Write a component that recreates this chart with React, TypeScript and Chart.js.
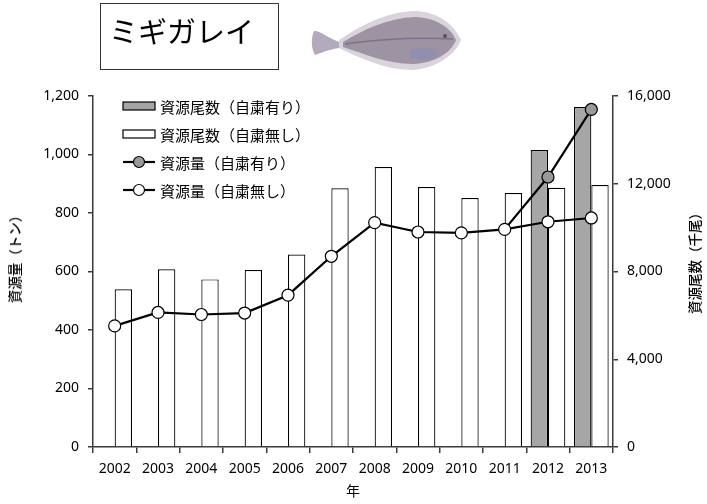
import React, { useEffect, useRef } from "react";
import { Chart, registerables } from "chart.js";

Chart.register(...registerables);

const years = ["2002", "2003", "2004", "2005", "2006", "2007", "2008", "2009", "2010", "2011", "2012", "2013"];
// 資源量 (トン)
const biomassNoRestraint = [414, 460, 453, 458, 519, 652, 767, 735, 732, 744, 770, 783];
const biomassRestraint = [null, null, null, null, null, null, null, null, null, 744, 923, 1154];
// 資源尾数 (千尾)
const countNoRestraint = [7190, 8100, 7640, 8070, 8770, 11790, 12760, 11850, 11350, 11580, 11820, 11940];
const countRestraint = [null, null, null, null, null, null, null, null, null, null, 13540, 15500];

const legendLabels = ["資源尾数（自粛有り）", "資源尾数（自粛無し）", "資源量（自粛有り）", "資源量（自粛無し）"];

const AXIS = "#3a3a3a";
const GRAY = "#a6a6a6";
const tickFont = { family: "'Noto Sans', sans-serif", size: 14 };
const jp = "'Noto Sans CJK JP', sans-serif";

const fmt = (v: any) => Number(v).toLocaleString("en-US");

const Fish = () => (
    <svg width={165} height={80} style={{ position: "absolute", left: 305, top: 0 }}>
        <path d="M34 42 C20 36 14 30 9 31 C6 38 6 48 10 55 C16 53 22 50 34 48 Z" fill="#b3abbd" />
        <path d="M34 40 C55 26 80 12 110 11 C135 12 150 26 156 40 C150 55 132 68 108 70 C80 70 55 58 34 48 Z" fill="#d9d4dc" />
        <path d="M38 42 C58 30 82 18 110 17 C132 18 146 28 151 40 C146 53 130 63 108 64 C82 64 60 54 38 47 Z" fill="#9d93a3" />
        <path d="M40 44 C70 40 100 37 148 39" stroke="#7b7287" strokeWidth={1.5} fill="none" />
        <ellipse cx={118} cy={54} rx={14} ry={6} fill="#8a8db0" opacity={0.7} />
        <circle cx={140} cy={36} r={2} fill="#555" />
    </svg>
);

const Legend = () => {
    const rows = [106, 134, 162, 190];
    return (
        <>
            {legendLabels.map((t, i) => (
                <div key={t} style={{ position: "absolute", left: 122, top: rows[i] - 10, height: 20, display: "flex", alignItems: "center" }}>
                    <svg width={34} height={20}>
                        {i < 2 ? (
                            <rect x={1} y={6} width={32} height={8} fill={i === 0 ? GRAY : "#fff"} stroke="#000" strokeWidth={1.2} />
                        ) : (
                            <>
                                <line x1={1} y1={10} x2={33} y2={10} stroke="#000" strokeWidth={2.2} />
                                <circle cx={17} cy={10} r={5.5} fill={i === 2 ? "#999" : "#fff"} stroke="#000" strokeWidth={1.2} />
                            </>
                        )}
                    </svg>
                    <span style={{ marginLeft: 4, fontSize: 15, fontFamily: jp, color: "#000", whiteSpace: "nowrap" }}>{t}</span>
                </div>
            ))}
        </>
    );
};

const axisTitle = (left: number, top: number): React.CSSProperties => ({
    position: "absolute",
    left,
    top,
    transform: "translate(-50%, -50%) rotate(-90deg)",
    fontSize: 13.5,
    fontFamily: jp,
    fontWeight: 500,
    whiteSpace: "nowrap",
    color: "#000",
    lineHeight: "16px",
});

const App = () => {
    const canvasRef = useRef<HTMLCanvasElement | null>(null);

    useEffect(() => {
        const ctx = canvasRef.current?.getContext("2d");
        if (!ctx) return;

        const chart = new Chart(ctx, {
            type: "bar",
            data: {
                labels: years,
                datasets: [
                    {
                        type: "line",
                        label: legendLabels[3],
                        data: biomassNoRestraint,
                        yAxisID: "y",
                        borderColor: "#000",
                        borderWidth: 2.2,
                        pointRadius: 6,
                        pointBackgroundColor: "#fff",
                        pointBorderColor: "#000",
                        pointBorderWidth: 1.2,
                        order: 0,
                    },
                    {
                        type: "line",
                        label: legendLabels[2],
                        data: biomassRestraint,
                        yAxisID: "y",
                        borderColor: "#000",
                        borderWidth: 2.2,
                        pointRadius: biomassRestraint.map((v, i) => (i < 10 ? 0 : 6)),
                        pointBackgroundColor: "#999",
                        pointBorderColor: "#000",
                        pointBorderWidth: 1.2,
                        order: 0,
                    },
                    {
                        type: "bar",
                        label: legendLabels[0],
                        data: countRestraint,
                        yAxisID: "y2",
                        backgroundColor: GRAY,
                        borderColor: "#000",
                        borderWidth: 1.2,
                        categoryPercentage: 0.8,
                        barPercentage: 1.0,
                        order: 1,
                    },
                    {
                        type: "bar",
                        label: legendLabels[1],
                        data: countNoRestraint,
                        yAxisID: "y2",
                        backgroundColor: "#fff",
                        borderColor: "#000",
                        borderWidth: 1.2,
                        categoryPercentage: 0.8,
                        barPercentage: 1.0,
                        order: 1,
                    },
                ] as any,
            },
            options: {
                animation: false,
                responsive: true,
                maintainAspectRatio: false,
                layout: { padding: { top: 96, left: 0, right: 0, bottom: 0 } },
                plugins: { legend: { display: false }, tooltip: { enabled: false } },
                scales: {
                    x: {
                        offset: true,
                        grid: { offset: true, drawOnChartArea: false, drawTicks: true, tickLength: 6, color: AXIS, lineWidth: 1.5 },
                        border: { color: AXIS, width: 1.5 },
                        ticks: { font: tickFont, color: "#000", padding: 8, maxRotation: 0 },
                        afterFit: (s: any) => { s.height = 57; },
                    },
                    y: {
                        position: "left",
                        min: 0,
                        max: 1200,
                        ticks: { stepSize: 200, font: tickFont, color: "#000", padding: 9, callback: fmt },
                        grid: { drawOnChartArea: false, drawTicks: true, tickLength: 5, color: AXIS, lineWidth: 1.5 },
                        border: { color: AXIS, width: 1.5 },
                        afterFit: (s: any) => { s.width = 93; },
                    },
                    y2: {
                        position: "right",
                        min: 0,
                        max: 16000,
                        ticks: { stepSize: 4000, font: tickFont, color: "#000", padding: 9, callback: fmt },
                        grid: { drawOnChartArea: false, drawTicks: true, tickLength: 5, color: AXIS, lineWidth: 1.5 },
                        border: { color: AXIS, width: 1.5 },
                        afterFit: (s: any) => { s.width = 94; },
                    },
                },
            },
        });

        return () => {
            chart.destroy();
        };
    }, []);

    return (
        <div style={{ position: "absolute", left: 0, top: 0, width: 707, height: 504, background: "#fff", overflow: "hidden" }}>
            <div style={{ position: "absolute", left: 0, top: 0, width: 707, height: 504 }}>
                <canvas ref={canvasRef} />
            </div>
            <div style={{ position: "absolute", left: 100, top: 3, width: 179, height: 67, border: "1px solid #333", boxSizing: "border-box" }}>
                <div style={{ position: "absolute", left: 8, top: 8, fontSize: 29, fontFamily: jp, color: "#000", whiteSpace: "nowrap", lineHeight: "36px" }}>ミギガレイ</div>
            </div>
            <Fish />
            <Legend />
            <div style={axisTitle(14, 256)}>資源量（トン）</div>
            <div style={axisTitle(694, 260)}>資源尾数（千尾）</div>
            <div style={{ position: "absolute", left: 353, top: 490, transform: "translate(-50%, -50%)", fontSize: 14, fontFamily: jp, color: "#000" }}>年</div>
        </div>
    );
};

export default App;
